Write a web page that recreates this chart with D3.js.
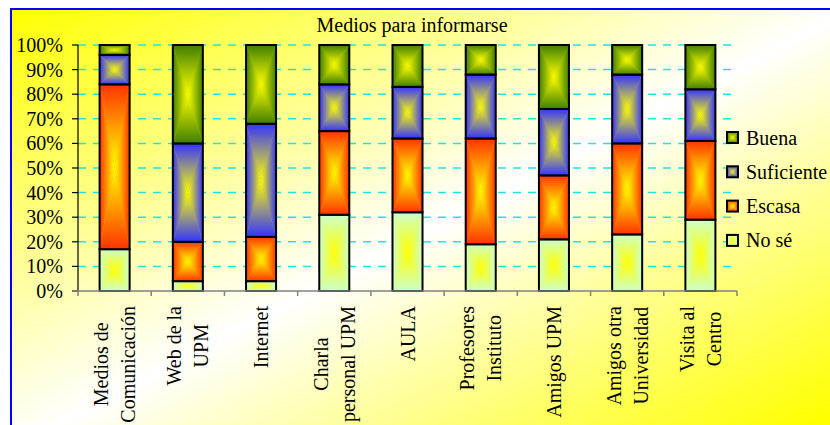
<!DOCTYPE html>
<html>
<head>
<meta charset="utf-8">
<script src="https://cdn.jsdelivr.net/npm/d3@7"></script>
<style>
  body { margin: 0; background: #fff; }
  text { font-family: "Liberation Serif", "Times New Roman", serif; fill: #000; }
</style>
</head>
<body>
<div id="chart"></div>
<script>
var categories = [
  ["Medios de", "Comunicación"],
  ["Web de la", "UPM"],
  ["Internet"],
  ["Charla", "personal UPM"],
  ["AULA"],
  ["Profesores", "Instituto"],
  ["Amigos UPM"],
  ["Amigos otra", "Universidad"],
  ["Visita al", "Centro"]
];

// percent per category, bottom to top
var noSe       = [17, 4, 4, 31, 32, 19, 21, 23, 29];
var escasa     = [67, 16, 18, 34, 30, 43, 26, 37, 32];
var suficiente = [12, 40, 46, 19, 21, 26, 27, 28, 21];
var buena      = [4, 40, 32, 16, 17, 12, 26, 12, 18];

var seriesNames = ["No sé", "Escasa", "Suficiente", "Buena"];
var seriesValues = [noSe, escasa, suficiente, buena];
var edgeColors = ["#ccffcc", "#ff3300", "#3333ff", "#3f7f00"];
var centerColor = "#ffff00";

var yTicks = [0, 10, 20, 30, 40, 50, 60, 70, 80, 90, 100];

var width = 830, height = 425;
var plotLeft = 78, plotRight = 737, plotTop = 45, plotBottom = 291;

var svg, x, y, defs;

createSVG();
makeGradients();
drawFrame();
drawGrid();
drawBars();
drawAxes();
drawLegend();

function createSVG() {
  svg = d3.select("#chart")
    .append("svg")
    .attr("width", width)
    .attr("height", height);

  x = d3.scaleBand()
    .domain(d3.range(categories.length))
    .range([plotLeft, plotRight])
    .paddingInner(0.59)
    .paddingOuter(0.295);

  y = d3.scaleLinear()
    .domain([0, 100])
    .range([plotBottom, plotTop]);

  defs = svg.append("defs");
}

function makeGradients() {
  var bg = defs.append("linearGradient")
    .attr("id", "bg")
    .attr("x1", 0).attr("y1", 0)
    .attr("x2", 1).attr("y2", 1);
  bg.append("stop").attr("offset", 0).attr("stop-color", "#ffff00");
  bg.append("stop").attr("offset", 0.5).attr("stop-color", "#ffffff");
  bg.append("stop").attr("offset", 0.95).attr("stop-color", "#ffff00");

  // rectangle "from center" gradient built from four triangles
  var sides = {
    t: [0, 0, 0, 1],
    b: [0, 1, 0, 0],
    l: [0, 0, 1, 0],
    r: [1, 0, 0, 0]
  };
  edgeColors.forEach(function(c, i) {
    Object.keys(sides).forEach(function(k) {
      var s = sides[k];
      var g = defs.append("linearGradient")
        .attr("id", "g" + i + k)
        .attr("x1", s[0]).attr("y1", s[1])
        .attr("x2", s[2]).attr("y2", s[3]);
      g.append("stop").attr("offset", 0).attr("stop-color", c);
      g.append("stop").attr("offset", 1).attr("stop-color", centerColor);
    });
  });
}

function drawFrame() {
  svg.append("rect")
    .attr("x", 11)
    .attr("y", 9)
    .attr("width", 840)
    .attr("height", 440)
    .attr("fill", "url(#bg)")
    .attr("stroke", "#0000ff")
    .attr("stroke-width", 2);

  svg.append("text")
    .attr("x", 412)
    .attr("y", 32)
    .attr("text-anchor", "middle")
    .style("font-size", "20px")
    .text("Medios para informarse");
}

function drawGrid() {
  svg.selectAll(".grid")
    .data(yTicks.filter(function(d) { return d > 0; }))
    .enter()
    .append("line")
    .attr("class", "grid")
    .attr("x1", plotLeft)
    .attr("x2", 732)
    .attr("y1", function(d) { return y(d); })
    .attr("y2", function(d) { return y(d); })
    .attr("stroke", "#22e3e3")
    .attr("stroke-width", 1.5)
    .attr("stroke-dasharray", "8,7");
}

function fillSegment(g, x0, y0, x1, y1, si) {
  var cx = (x0 + x1) / 2, cy = (y0 + y1) / 2;
  var tris = {
    t: [[x0, y0], [x1, y0], [cx, cy]],
    b: [[x0, y1], [x1, y1], [cx, cy]],
    l: [[x0, y0], [x0, y1], [cx, cy]],
    r: [[x1, y0], [x1, y1], [cx, cy]]
  };
  g.append("rect")
    .attr("x", x0).attr("y", y0)
    .attr("width", x1 - x0).attr("height", y1 - y0)
    .attr("fill", d3.interpolateRgb(edgeColors[si], centerColor)(0.5));
  Object.keys(tris).forEach(function(k) {
    g.append("polygon")
      .attr("points", tris[k].map(function(p) { return p.join(","); }).join(" "))
      .attr("fill", "url(#g" + si + k + ")");
  });
  g.append("rect")
    .attr("x", x0).attr("y", y0)
    .attr("width", x1 - x0).attr("height", y1 - y0)
    .attr("fill", "none")
    .attr("stroke", "#000")
    .attr("stroke-width", 2);
}

function drawBars() {
  var bars = svg.append("g").attr("class", "bars");
  categories.forEach(function(cat, ci) {
    var total = d3.sum(seriesValues, function(s) { return s[ci]; });
    var acc = 0;
    seriesValues.forEach(function(s, si) {
      var v0 = acc / total * 100;
      acc += s[ci];
      var v1 = acc / total * 100;
      var g = bars.append("g");
      fillSegment(g, x(ci), y(v1), x(ci) + x.bandwidth(), y(v0), si);
    });
  });
}

function drawAxes() {
  // y axis
  svg.append("line")
    .attr("x1", plotLeft).attr("x2", plotLeft)
    .attr("y1", plotTop).attr("y2", plotBottom)
    .attr("stroke", "#000").attr("stroke-width", 1.2);

  svg.selectAll(".ytick")
    .data(yTicks)
    .enter()
    .append("line")
    .attr("x1", plotLeft - 6).attr("x2", plotLeft)
    .attr("y1", function(d) { return y(d); })
    .attr("y2", function(d) { return y(d); })
    .attr("stroke", "#000").attr("stroke-width", 1.2);

  svg.selectAll(".ylabel")
    .data(yTicks)
    .enter()
    .append("text")
    .attr("x", 63)
    .attr("y", function(d) { return y(d) + 7; })
    .attr("text-anchor", "end")
    .style("font-size", "20px")
    .text(function(d) { return d + "%"; });

  // x axis
  svg.append("line")
    .attr("x1", plotLeft - 6).attr("x2", plotRight)
    .attr("y1", plotBottom).attr("y2", plotBottom)
    .attr("stroke", "#808080").attr("stroke-width", 1.5);

  svg.selectAll(".xtick")
    .data(d3.range(categories.length + 1))
    .enter()
    .append("line")
    .attr("x1", function(d) { return plotLeft + d * x.step(); })
    .attr("x2", function(d) { return plotLeft + d * x.step(); })
    .attr("y1", plotBottom).attr("y2", plotBottom + 5)
    .attr("stroke", "#808080").attr("stroke-width", 1.5);

  var lineGap = 27;
  categories.forEach(function(lines, ci) {
    var cx = x(ci) + x.bandwidth() / 2;
    var g = svg.append("g")
      .attr("transform", "translate(" + cx + ",0) rotate(-90)");
    var texts = g.selectAll("text")
      .data(lines)
      .enter()
      .append("text")
      .attr("text-anchor", "middle")
      .style("font-size", "20px")
      .attr("y", function(d, i) {
        return 7 + (i - (lines.length - 1) / 2) * lineGap;
      })
      .text(function(d) { return d; });
    var maxLen = d3.max(texts.nodes(), function(n) { return n.getComputedTextLength(); });
    texts.attr("x", -(306 + maxLen / 2));
  });
}

function drawLegend() {
  var order = [3, 2, 1, 0];
  var legend = svg.append("g").attr("class", "legend");
  order.forEach(function(si, i) {
    var cy = 137.5 + i * 34.3;
    var g = legend.append("g");
    fillSegment(g, 727, cy - 5.5, 738, cy + 5.5, si);
    legend.append("text")
      .attr("x", 746)
      .attr("y", cy + 7)
      .style("font-size", "20px")
      .text(seriesNames[si]);
  });
}
</script>
</body>
</html>
